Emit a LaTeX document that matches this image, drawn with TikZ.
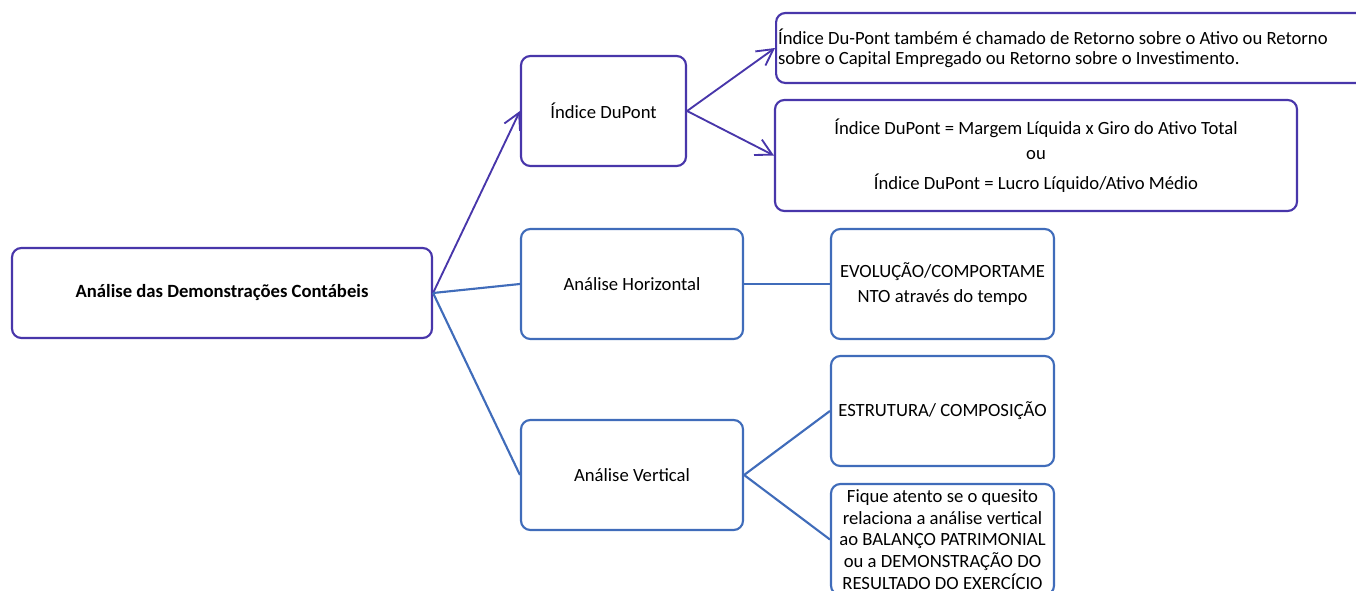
\documentclass[tikz,border=0pt]{standalone}
\usepackage{fontspec}
\setmainfont{Carlito}
\usepackage{tikz}
\usepackage{xcolor}
\usetikzlibrary{arrows.meta}
\definecolor{dpurple}{RGB}{72,54,170}
\definecolor{dblue}{RGB}{64,108,186}
\tikzset{
    rounded-box/.style = {draw=dpurple, fill=white, line width=1.6pt, rectangle, rounded corners=7pt, inner sep=2pt, align=center, font=\fontsize{14}{16.2}\selectfont},
    blue-box/.style = {rounded-box, draw=dblue},
    purple-link/.style = {draw=dpurple, line width=1.4pt, -{Straight Barb[length=12pt, width=13pt, line width=1.4pt]}},
    blue-link/.style = {draw=dblue, line width=1.6pt},
}

\begin{document}
\begin{tikzpicture}[x=0.75pt, y=-0.75pt]
\useasboundingbox (0,0) rectangle (1356,591);
\node [rounded-box, minimum width=315pt, minimum height=67.5pt, font=\fontsize{14}{16.2}\selectfont\bfseries] (root) at (222,293) {Análise das Demonstrações Contábeis};
\node [rounded-box, minimum width=123.75pt, minimum height=82.5pt] (dupont) at (603.5,111) {Índice DuPont};
\node [rounded-box, anchor=west, minimum height=52.5pt, text width=450pt, align=flush left, inner xsep=1.5pt, font=\fontsize{14}{15}\selectfont] (dupontdef) at (775,48) {Índice Du-Pont também é chamado de Retorno sobre o Ativo ou Retorno\\sobre o Capital Empregado ou Retorno sobre o Investimento.};
\node [rounded-box, minimum width=391.5pt, minimum height=83.25pt] (dupontformula) at (1036,155.5) {Índice DuPont = Margem Líquida x Giro do Ativo Total\\[3pt] ou\\[6pt] Índice DuPont = Lucro Líquido/Ativo Médio};
\node [blue-box, minimum width=166.5pt, minimum height=82.5pt] (horizontal) at (632,284) {Análise Horizontal};
\node [blue-box, minimum width=167.25pt, minimum height=82.5pt] (evolucao) at (942.5,284) {EVOLUÇÃO/COMPORTAME\\[3pt]NTO através do tempo};
\node [blue-box, minimum width=166.5pt, minimum height=82.5pt] (vertical) at (632,475) {Análise Vertical};
\node [blue-box, minimum width=167.25pt, minimum height=82.5pt] (estrutura) at (942.5,411) {ESTRUTURA/ COMPOSIÇÃO};
\node [blue-box, minimum width=167.25pt, minimum height=83.25pt] (atento) at (942.5,539.5) {Fique atento se o quesito\\relaciona a análise vertical\\ao BALANÇO PATRIMONIAL\\ou a DEMONSTRAÇÃO DO\\RESULTADO DO EXERCÍCIO};
\draw [purple-link] (root.east) -- (dupont.west);
\draw [blue-link] (root.east) -- (horizontal.west);
\draw [blue-link] (root.east) -- (vertical.west);
\draw [purple-link] (dupont.east) -- (dupontdef.west);
\draw [purple-link] (dupont.east) -- (dupontformula.west);
\draw [blue-link] (horizontal.east) -- (evolucao.west);
\draw [blue-link] (vertical.east) -- (estrutura.west);
\draw [blue-link] (vertical.east) -- (atento.west);
\end{tikzpicture}
\end{document}
